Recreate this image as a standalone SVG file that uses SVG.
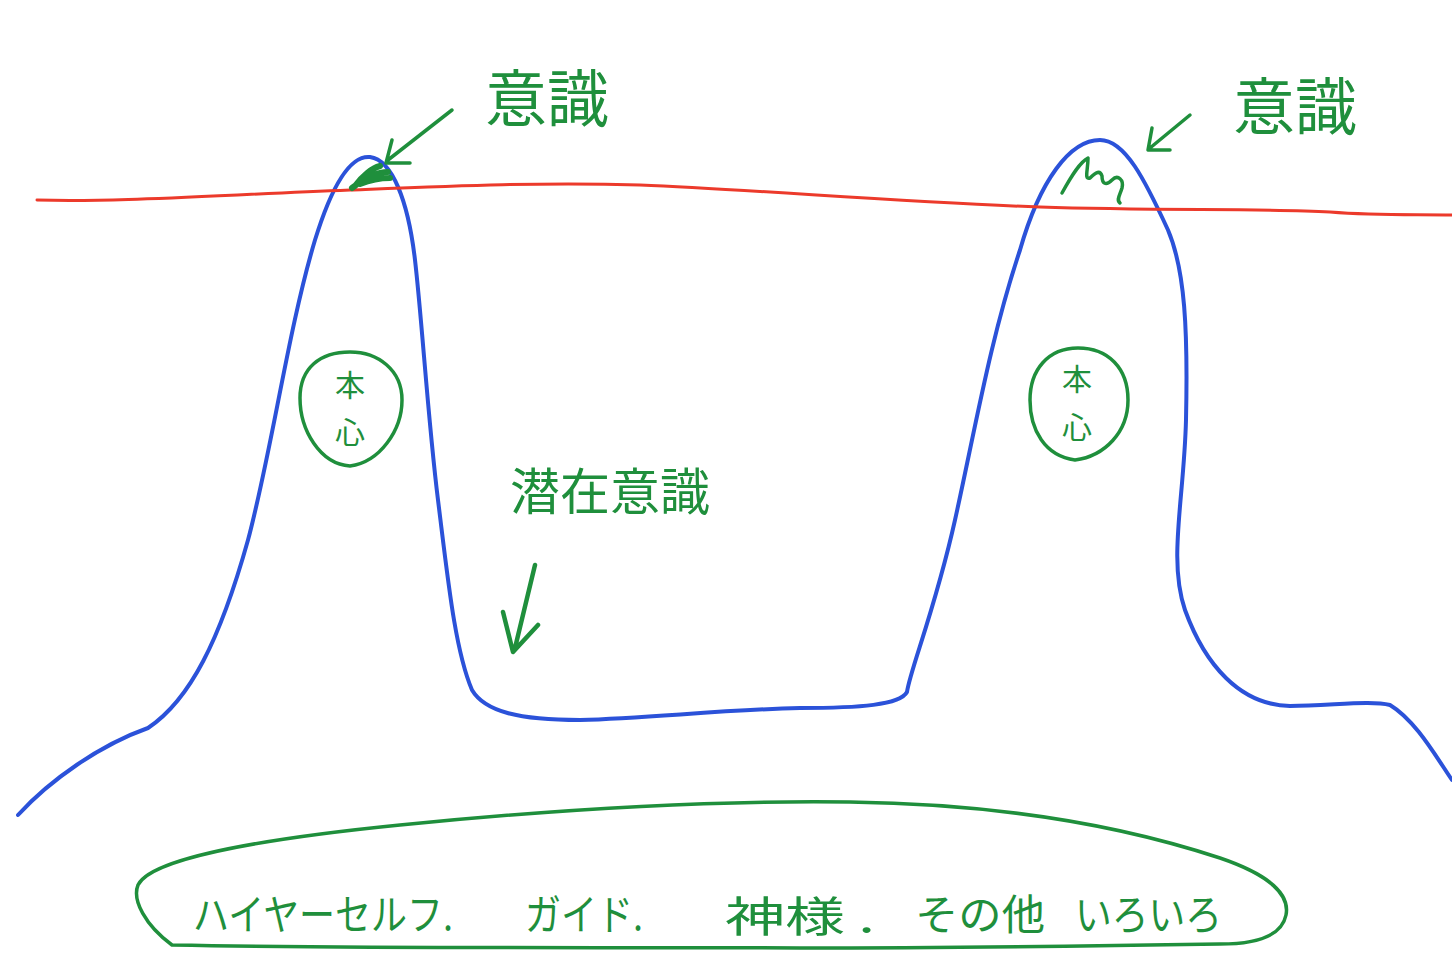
<svg xmlns="http://www.w3.org/2000/svg" width="1452" height="954" viewBox="0 0 1452 954">
<style>
.blue{fill:none;stroke:#2b52d9;stroke-width:4;stroke-linecap:round;stroke-linejoin:round}
.red{fill:none;stroke:#ec3a2b;stroke-width:3;stroke-linecap:round}
.g{fill:none;stroke:#1f8f3c;stroke-width:3.5;stroke-linecap:round;stroke-linejoin:round}
.t{fill:#1f8f3c;font-family:"Noto Sans CJK JP",sans-serif}
</style>
<rect width="1452" height="954" fill="#fff"/>
<g id="mountains">
<path class="blue" d="M18,815 C50,780 100,745 148,728 C190,700 220,640 248,540 C272,450 288,330 315,240 C332,185 350,155 370,157 C392,160 408,200 415,260 C422,320 428,420 438,500 C448,580 455,650 472,690 C485,712 520,720 580,720 C650,718 720,710 800,708 C860,708 900,705 907,692 C910,670 935,610 955,520 C975,430 990,340 1020,250 C1040,180 1070,140 1100,140 C1125,140 1145,180 1168,230 C1185,270 1188,330 1186,420 C1184,500 1168,560 1185,610 C1205,665 1240,705 1290,706 C1330,706 1370,700 1390,705 C1415,720 1435,755 1452,780"/>
</g>
<g id="surface">
<path class="red" d="M37,200 C120,202 200,196 350,190 C450,186 540,182 640,185 C760,190 900,202 1040,207 C1160,211 1260,208 1330,212 C1380,216 1420,214 1452,215"/>
</g>
<g id="connectors">
<path class="g" d="M452,110 L388,160 M392,140 L386,163 L410,163"/>
<path class="g" d="M355,186 C362,176 372,168 380,166 M352,188 C365,178 378,172 388,172 M360,184 C370,180 380,178 390,178" style="stroke-width:6"/>
<path class="g" d="M1190,115 L1150,148 M1152,128 L1148,150 L1170,150"/>
<path class="g" d="M1062,193 C1072,175 1080,162 1088,158 C1088,170 1084,180 1090,178 C1096,172 1100,170 1102,176 C1102,184 1106,186 1112,180 C1118,174 1124,180 1122,188 C1120,195 1116,200 1120,203"/>
<path class="g" d="M535,565 L515,648 M503,612 L513,652 L538,625" style="stroke-width:4.5"/>
</g>
<g id="conscious-left"><text class="t" x="485" y="122" font-size="62">意識</text></g>
<g id="conscious-right"><text class="t" x="1233" y="130" font-size="62">意識</text></g>
<g id="honshin-left">
<path class="g" d="M350,352 C378,352 402,370 402,400 C402,430 380,462 350,466 C320,464 300,430 300,398 C300,368 320,352 350,352 Z"/>
<text class="t" x="350" y="396" font-size="30" text-anchor="middle">本</text>
<text class="t" x="350" y="443" font-size="30" text-anchor="middle">心</text>
</g>
<g id="honshin-right">
<path class="g" d="M1078,348 C1108,348 1128,368 1128,400 C1128,432 1105,456 1075,460 C1045,456 1030,430 1030,400 C1030,370 1048,348 1078,348 Z"/>
<text class="t" x="1077" y="390" font-size="30" text-anchor="middle">本</text>
<text class="t" x="1077" y="438" font-size="30" text-anchor="middle">心</text>
</g>
<g id="subconscious"><text class="t" x="510" y="510" font-size="50">潜在意識</text></g>
<g id="higher">
<path class="g" d="M172,945 C145,925 132,900 138,885 C150,860 250,840 400,825 C550,810 700,800 850,802 C1000,804 1120,825 1220,858 C1270,875 1290,895 1286,915 C1282,935 1260,944 1220,944 C1100,946 950,948 800,948 C600,947 400,949 172,945"/>
<text class="t" font-size="42" x="193" y="930" textLength="260" lengthAdjust="spacingAndGlyphs">ハイヤーセルフ.</text>
<text class="t" font-size="42" x="525" y="930" textLength="118" lengthAdjust="spacingAndGlyphs">ガイド.</text>
<text class="t" font-size="42" x="725" y="932" textLength="150" lengthAdjust="spacingAndGlyphs">神様 .</text>
<text class="t" font-size="42" x="915" y="930" textLength="130" lengthAdjust="spacingAndGlyphs">その他</text>
<text class="t" font-size="42" x="1075" y="930" textLength="147" lengthAdjust="spacingAndGlyphs">いろいろ</text>
</g>
</svg>
